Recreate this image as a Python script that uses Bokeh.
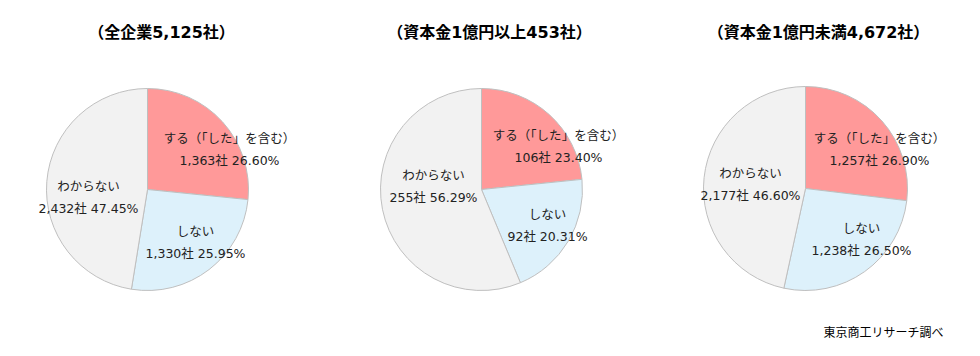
import math
from bokeh.plotting import figure
from bokeh.models import Range1d, ColumnDataSource
from bokeh.core.properties import value
from bokeh.embed import file_html
from bokeh.resources import INLINE

# ---- data ----
groups = ["全企業", "資本金1億円以上", "資本金1億円未満"]
totals = [5125, 453, 4672]
categories = ["する（「した」を含む）", "しない", "わからない"]
counts_all = [1363, 1330, 2432]
counts_large = [106, 92, 255]
counts_small = [1257, 1238, 2177]
pct_all = [26.60, 25.95, 47.45]
pct_large = [23.40, 20.31, 56.29]
pct_small = [26.90, 26.50, 46.60]
source_note = "東京商工リサーチ調べ"

counts = [counts_all, counts_large, counts_small]
pcts = [pct_all, pct_large, pct_small]

# ---- layout / style ----
W, H = 980, 356
FONT = "DejaVu Sans, Noto Sans CJK JP"
colors = ["#FF9999", "#DDF1FB", "#F2F2F2"]
pie_cx = [147, 481, 805]
pie_cy = [189, 189, 188]
pie_r = [101, 101, 102]
title_cx = [161, 489, 818]
title_y = 32
# label block offsets (px, x right / y down) from the pie centre
label_off = [
    [(82, -40), (48, 53), (-59, 8)],
    [(77, -43), (66, 36), (-48, -3)],
    [(74, -39), (56, 51), (-55, -4)],
]
LINE_GAP = 22

p = figure(width=W, height=H, x_range=Range1d(0, W), y_range=Range1d(0, H),
           x_axis_type=None, y_axis_type=None, toolbar_location=None,
           output_backend="svg", min_border=0, outline_line_color=None)
p.grid.visible = False
p.background_fill_color = "white"
p.border_fill_color = "white"

def fy(y):
    return H - y

for i in range(3):
    vals = counts[i]
    tot = sum(vals)
    starts, ends = [], []
    a = math.pi / 2
    for v in vals:
        starts.append(a)
        a = a - 2 * math.pi * v / tot
        ends.append(a)
    src = ColumnDataSource(dict(
        x=[pie_cx[i]] * 3, y=[fy(pie_cy[i])] * 3,
        start=starts, end=ends, color=colors,
    ))
    p.wedge(x="x", y="y", radius=pie_r[i], start_angle="start", end_angle="end",
            direction="clock", fill_color="color", line_color="#BFBFBF",
            line_width=1, source=src)

    # title
    title = f"（{groups[i]}{totals[i]:,}社）"
    p.text(x=[title_cx[i]], y=[fy(title_y)], text=[title],
           text_font=value(FONT), text_font_size="16px", text_font_style="bold",
           text_align="center", text_baseline="middle", text_color="#000000")

    # labels
    l1x, l1y, l1t, l2x, l2y, l2t = [], [], [], [], [], []
    for j in range(3):
        dx, dy = label_off[i][j]
        bx, by = pie_cx[i] + dx, pie_cy[i] + dy
        l1x.append(bx); l1y.append(fy(by - LINE_GAP / 2)); l1t.append(categories[j])
        l2x.append(bx); l2y.append(fy(by + LINE_GAP / 2))
        l2t.append(f"{vals[j]:,}社 {pcts[i][j]:.2f}%")
    for xs, ys, ts in ((l1x, l1y, l1t), (l2x, l2y, l2t)):
        p.text(x=xs, y=ys, text=ts, text_font=value(FONT), text_font_size="12.5px",
               text_align="center", text_baseline="middle", text_color="#222222")

p.text(x=[943], y=[fy(332)], text=[source_note], text_font=value(FONT),
       text_font_size="12px", text_align="right", text_baseline="middle",
       text_color="#000000")

open("out.html", "w").write(file_html(p, INLINE))
